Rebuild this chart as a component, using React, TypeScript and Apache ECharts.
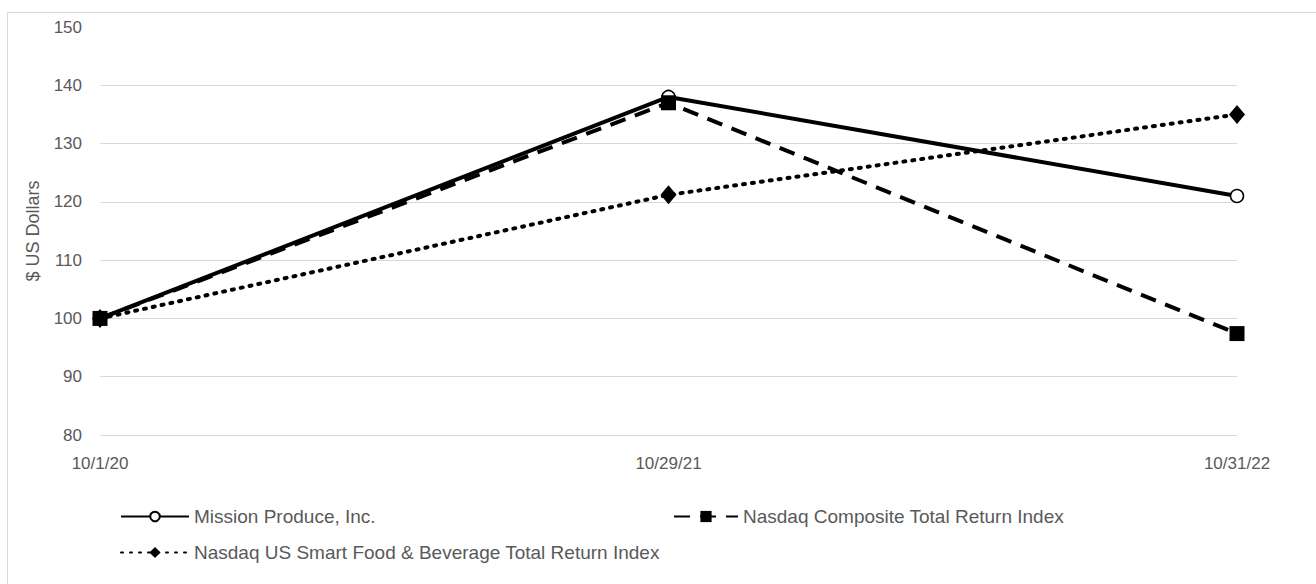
import React, { useEffect, useRef } from "react";
import * as echarts from "echarts";

const categories = ["10/1/20", "10/29/21", "10/31/22"];
const seriesNames = [
  "Mission Produce, Inc.",
  "Nasdaq Composite Total Return Index",
  "Nasdaq US Smart Food & Beverage Total Return Index",
];
const missionValues = [100, 138, 121];
const compositeValues = [100, 137, 97.4];
const foodValues = [100, 121.2, 135];
const yTicks = { min: 80, max: 150, interval: 10 };

const FONT = "'Liberation Sans', Arial, sans-serif";
const GRAY = "#595959";

export default function App() {
  const ref = useRef<HTMLDivElement>(null);
  useEffect(() => {
    if (!ref.current) return;
    const chart = echarts.init(ref.current, undefined, { renderer: "svg" });
    const legendText = { color: GRAY, fontSize: 19, fontFamily: FONT };
    chart.setOption({
      animation: false,
      backgroundColor: "#fff",
      graphic: [
        {
          type: "rect",
          shape: { x: 7.5, y: 12.5, width: 1400, height: 600 },
          style: { fill: "none", stroke: "#d9d9d9", lineWidth: 1 },
          silent: true,
        },
      ],
      grid: { left: 100, right: 79, top: 27, bottom: 149, containLabel: false },
      xAxis: {
        type: "category",
        data: categories,
        boundaryGap: false,
        axisLine: { show: false },
        axisTick: { show: false },
        axisLabel: { color: GRAY, fontSize: 17, fontFamily: FONT, margin: 20 },
        splitLine: { show: false },
      },
      yAxis: {
        type: "value",
        min: yTicks.min,
        max: yTicks.max,
        interval: yTicks.interval,
        name: "$ US Dollars",
        nameLocation: "middle",
        nameGap: 58,
        nameTextStyle: { color: GRAY, fontSize: 18, fontFamily: FONT },
        axisLine: { show: false },
        axisTick: { show: false },
        axisLabel: { color: GRAY, fontSize: 17, fontFamily: FONT, margin: 18 },
        splitLine: { show: true, showMaxLine: false, lineStyle: { color: "#d9d9d9", width: 1 } },
      },
      legend: [
        {
          data: [seriesNames[0]],
          left: 120,
          top: 507,
          padding: 0,
          itemWidth: 68,
          itemHeight: 12,
          textStyle: legendText,
        },
        {
          data: [seriesNames[1]],
          left: 673,
          top: 507,
          padding: 0,
          itemWidth: 64,
          itemHeight: 14,
          textStyle: legendText,
        },
        {
          data: [seriesNames[2]],
          left: 120,
          top: 543,
          padding: 0,
          itemWidth: 68,
          itemHeight: 14,
          textStyle: legendText,
        },
      ],
      series: [
        {
          name: seriesNames[0],
          type: "line",
          data: missionValues,
          symbol: "circle",
          symbolSize: 13,
          lineStyle: { color: "#000", width: 4, type: "solid" },
          itemStyle: { color: "#fff", borderColor: "#000", borderWidth: 1.5 },
          z: 2,
        },
        {
          name: seriesNames[1],
          type: "line",
          data: compositeValues,
          symbol: "rect",
          symbolSize: 15,
          lineStyle: { color: "#000", width: 4, type: [16, 10] },
          itemStyle: { color: "#000" },
          z: 3,
        },
        {
          name: seriesNames[2],
          type: "line",
          data: foodValues,
          symbol: "diamond",
          symbolSize: [16, 19],
          lineStyle: { color: "#000", width: 4, type: [2, 7], cap: "round" },
          itemStyle: { color: "#000" },
          z: 1,
        },
      ],
    });
    return () => chart.dispose();
  }, []);
  return (
    <div
      ref={ref}
      style={{ position: "fixed", left: 0, top: 0, width: 1316, height: 584 }}
    />
  );
}
